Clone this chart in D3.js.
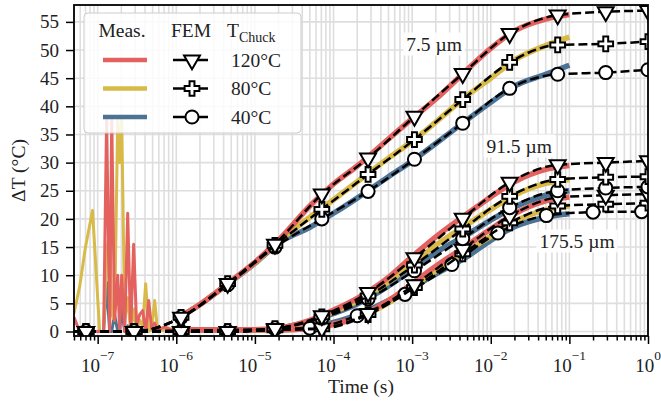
<!DOCTYPE html>
<html>
<head>
<meta charset="utf-8">
<title>Delta T vs time</title>
<style>
  body { margin: 0; background: #fff; }
  svg { display: block; }
  svg text { font-family: "Liberation Serif", "Times New Roman", serif; }
</style>
</head>
<body>
<script src="https://cdn.jsdelivr.net/npm/d3@7/dist/d3.min.js"></script>
<script>
// ---- data ----
// FEM time grid (s)
const femTime = [5e-8, 7.1e-8, 2.9e-7, 1.15e-6, 4.5e-6, 1.8e-5, 7.1e-5, 2.75e-4, 1.07e-3, 4.4e-3, 1.74e-2, 7.1e-2, 0.29, 1.0];
const fem7_120 = [0, 0, 0, 2.5, 8.5, 15.5, 24.4, 30.8, 38.2, 45.8, 52.9, 56.2, 56.8, 57.0];
const fem7_80  = [0, 0, 0, 2.5, 8.5, 15.3, 21.7, 27.9, 34.1, 41.2, 47.8, 50.9, 51.1, 51.5];
const fem7_40  = [0, 0, 0, 2.5, 8.3, 15.0, 20.0, 24.9, 30.6, 37.0, 43.2, 45.7, 46.0, 46.5];
const fem91_120 = [0, 0, 0, 0, 0, 0.5, 2.8, 6.9, 13.1, 20.1, 26.5, 29.6, 30.0, 30.3];
const fem91_80  = [0, 0, 0, 0, 0, 0.5, 2.6, 6.3, 11.8, 18.2, 24.0, 27.0, 27.4, 27.5];
const fem91_40  = [0, 0, 0, 0, 0, 0.5, 2.4, 5.8, 10.8, 16.5, 22.0, 25.0, 25.5, 25.7];
const fem175_120 = [0, 0, 0, 0, 0, 0.3, 0.6, 3.2, 8.3, 14.6, 20.5, 23.8, 24.2, 24.4];
const fem175_80  = [0, 0, 0, 0, 0, 0.3, 0.5, 3.0, 7.8, 13.8, 19.3, 22.3, 22.6, 22.8];
// the 40°C / 175.5 µm run sits on its own time grid
const femTime175_40 = [5e-8, 5e-5, 2e-4, 8.1e-4, 3.2e-3, 1.23e-2, 5.1e-2, 0.2, 0.83];
const fem175_40 = [0, 0.6, 2.8, 6.6, 11.9, 17.5, 20.6, 21.2, 21.3];

// measurements
const measTime = [1e-6, 2e-6, 5e-6, 1e-5, 2e-5, 5e-5, 1e-4, 2e-4, 5e-4, 1e-3, 2e-3, 5e-3, 1e-2, 2e-2, 5e-2, 1e-1];
const meas7_120 = [2.2, 4.8, 9.0, 12.3, 16.2, 22.3, 26.2, 29.4, 34.2, 37.8, 41.3, 46.5, 50.3, 53.4, 55.5, 56.3];
const meas7_80  = [2.2, 4.8, 9.0, 12.2, 16.0, 20.3, 23.4, 26.6, 30.8, 33.8, 37.2, 41.9, 45.0, 48.2, 50.8, 52.3];
const meas7_40  = [2.2, 4.8, 8.9, 12.1, 15.7, 18.5, 21.0, 23.7, 27.5, 30.3, 33.4, 37.6, 40.7, 43.6, 45.7, 47.3];
const meas91_120 = [0.3, 0.3, 0.3, 0.3, 0.6, 2.0, 3.8, 5.9, 9.6, 13.3, 16.8, 20.9, 23.9, 26.6, 28.8, 29.5];
const meas91_80  = [0.3, 0.3, 0.3, 0.3, 0.6, 1.9, 3.5, 5.4, 8.8, 12.1, 15.3, 19.0, 21.7, 24.2, 26.3, 27.0];
const meas91_40  = [0.3, 0.3, 0.3, 0.3, 0.6, 1.8, 3.2, 4.9, 8.1, 11.1, 14.0, 17.2, 19.8, 22.1, 24.2, 25.0];
const meas175_120 = [0.3, 0.3, 0.3, 0.3, 0.3, 0.5, 1.3, 2.5, 5.5, 8.5, 11.6, 15.3, 18.2, 20.9, 23.2, 23.9];
const meas175_80  = [0.3, 0.3, 0.3, 0.3, 0.3, 0.5, 1.2, 2.4, 5.1, 7.9, 10.8, 14.3, 16.9, 19.5, 21.6, 22.3];
const meas175_40  = [0.3, 0.3, 0.3, 0.3, 0.3, 0.6, 1.6, 2.9, 5.5, 7.8, 10.2, 13.3, 16.2, 18.6, 20.3, 20.9];

// early-time noise of the measurement
const noiseTime = [5.0e-8, 5.9e-8, 7.0e-8, 8.6e-8, 1.06e-7, 1.19e-7, 1.30e-7, 1.42e-7, 1.51e-7, 1.64e-7, 1.80e-7, 1.90e-7, 2.02e-7, 2.21e-7,
                   2.41e-7, 2.63e-7, 2.87e-7, 3.13e-7, 3.42e-7, 3.74e-7, 4.08e-7, 4.46e-7, 4.86e-7, 5.31e-7, 5.80e-7, 7.11e-7, 8.73e-7, 1.01e-6];
const noise120 = [2.5, 0, 0, 0, 0, 0, 38, 0, 38, 2, 10, 0, 10, 0, 21, 0, 15.5, 1, 3, 3.7, 0, 5.5, 0.5, 1.5, 0.3, 0.8, 0.3, 0.6];
const noise80  = [3.2, 8, 15, 21.5, 0, 0, 14, 18, 3, 2, 38, 30, 38, 2, 6, 0, 4, 0, 2, 1, 8.5, 0, 0.5, 5.5, 0, 0.3, 0.5, 0.8];
const noise40  = [0, 0, 0, 0, 0, 0, 8.7, 0, 0, 3, 0, 0, 4, 0, 1, 0, 0.3, 0.3, 0.3, 0.3, 0.3, 0.3, 0.3, 0.3, 0.3, 0.3, 0.3, 0.5];

const tempLabels = ["120°C", "80°C", "40°C"];
const thickLabels = ["7.5 µm", "91.5 µm", "175.5 µm"];
const colors = { 120: "#e3625f", 80: "#d8ba48", 40: "#4c7294" };

const FONT = "Liberation Serif, Times New Roman, serif";

// ---- layout ----
const W = 661, H = 412;
const pl = 74, pr = 648, pt = 5, pb = 336;

const svg = d3.select("body").append("svg")
  .attr("width", W).attr("height", H)
  .attr("font-family", FONT);

const x = d3.scaleLog().domain([5e-8, 1]).range([pl, pr]);
const y = d3.scaleLinear().domain([-0.8, 58]).range([pb, pt]);

// grid
let minorX = [];
for (let e = -8; e <= 0; e++) {
  for (let m = 1; m <= 9; m++) {
    let v = m * Math.pow(10, e);
    if (v >= 5e-8 * 0.999 && v <= 1.0001) minorX.push(v);
  }
}
const yTicks = d3.range(0, 56, 5);
const majorX = [1e-7, 1e-6, 1e-5, 1e-4, 1e-3, 1e-2, 1e-1, 1];

svg.append("g").selectAll("line").data(minorX).enter().append("line")
  .attr("x1", d => x(d)).attr("x2", d => x(d))
  .attr("y1", pt).attr("y2", pb)
  .attr("stroke", "#dedede").attr("stroke-width", 1.6);
svg.append("g").selectAll("line").data(yTicks).enter().append("line")
  .attr("x1", pl).attr("x2", pr)
  .attr("y1", d => y(d)).attr("y2", d => y(d))
  .attr("stroke", "#dedede").attr("stroke-width", 1.6);

svg.append("clipPath").attr("id", "plot-clip")
  .append("rect").attr("x", pl).attr("y", pt).attr("width", pr - pl).attr("height", pb - pt);

const plot = svg.append("g").attr("clip-path", "url(#plot-clip)");

// measured curves
const zip = (ts, vs) => ts.map((t, i) => [t, vs[i]]);
const lineLin = d3.line().x(d => x(d[0])).y(d => y(d[1]));
const lineSmooth = d3.line().x(d => x(d[0])).y(d => y(d[1])).curve(d3.curveMonotoneX);

const noise = [[40, noise40], [80, noise80], [120, noise120]];
noise.forEach(([temp, vals]) => {
  plot.append("path")
    .attr("d", lineLin(zip(noiseTime, vals)))
    .attr("fill", "none").attr("stroke", colors[temp])
    .attr("stroke-width", 3).attr("stroke-linejoin", "round");
});

const meas = [
  [40, meas175_40], [80, meas175_80], [120, meas175_120],
  [40, meas91_40], [80, meas91_80], [120, meas91_120],
  [40, meas7_40], [80, meas7_80], [120, meas7_120]
];
meas.forEach(([temp, vals]) => {
  plot.append("path")
    .attr("d", lineSmooth(zip(measTime, vals)))
    .attr("fill", "none").attr("stroke", colors[temp])
    .attr("stroke-width", 5.5).attr("stroke-linecap", "butt");
});

// FEM curves
const markerOf = {
  120: d3.symbol(d3.symbolTriangle, 110),
  80: d3.symbol(d3.symbolCross, 120),
  40: d3.symbol(d3.symbolCircle, 135)
};
const rotOf = { 120: 180, 80: 0, 40: 0 };

function drawFem(g, ts, vals, temp) {
  const pts = zip(ts, vals);
  g.append("path")
    .attr("d", lineSmooth(pts))
    .attr("fill", "none").attr("stroke", "#000")
    .attr("stroke-width", 2.5).attr("stroke-dasharray", "9,4");
  g.selectAll(null).data(pts.slice(1)).enter().append("path")
    .attr("d", markerOf[temp]())
    .attr("transform", d => `translate(${x(d[0])},${y(d[1])}) rotate(${rotOf[temp]})`)
    .attr("fill", "#fff").attr("stroke", "#000").attr("stroke-width", 2);
}

const fem = [
  [femTime175_40, fem175_40, 40], [femTime, fem175_80, 80], [femTime, fem175_120, 120],
  [femTime, fem91_40, 40], [femTime, fem91_80, 80], [femTime, fem91_120, 120],
  [femTime, fem7_40, 40], [femTime, fem7_80, 80], [femTime, fem7_120, 120]
];
fem.forEach(([ts, vals, temp]) => drawFem(plot.append("g"), ts, vals, temp));

// thickness labels with white boxes
const labelPos = [[1.9e-3, 44], [2.3e-2, 146], [1.25e-1, 241]];
thickLabels.forEach((txt, i) => {
  const g = svg.append("g");
  const rect = g.append("rect").attr("fill", "#fff").attr("opacity", 0.9);
  const t = g.append("text")
    .attr("x", x(labelPos[i][0])).attr("y", labelPos[i][1] + 6.5)
    .attr("text-anchor", "middle").attr("font-size", 19.5).attr("fill", "#222")
    .attr("font-family", FONT)
    .text(txt);
  const b = t.node().getBBox();
  rect.attr("x", b.x - 3).attr("y", b.y - 1).attr("width", b.width + 6).attr("height", b.height + 2);
});

// frame
svg.append("rect").attr("x", pl).attr("y", pt)
  .attr("width", pr - pl).attr("height", pb - pt)
  .attr("fill", "none").attr("stroke", "#000").attr("stroke-width", 1.8);

// axes
const xAxis = svg.append("g").attr("transform", `translate(0,${pb})`);
xAxis.append("g").call(d3.axisBottom(x).tickValues(minorX.filter(d => !majorX.includes(d))).tickSize(4.5).tickFormat(""));
xAxis.append("g").call(d3.axisBottom(x).tickValues(majorX).tickSize(8).tickFormat(""));
xAxis.selectAll(".domain").remove();
xAxis.selectAll(".tick line").attr("stroke", "#000").attr("stroke-width", 1.5);

majorX.forEach(v => {
  const e = Math.round(Math.log10(v));
  const t = svg.append("text")
    .attr("x", x(v)).attr("y", 372)
    .attr("text-anchor", "middle").attr("font-size", 19).attr("fill", "#222")
    .attr("font-family", FONT);
  t.append("tspan").text("10");
  t.append("tspan").attr("dy", -12).attr("font-size", 13.5)
    .text(e < 0 ? "\u2212" + (-e) : String(e));
});

const yAxis = svg.append("g").attr("transform", `translate(${pl},0)`)
  .call(d3.axisLeft(y).tickValues(yTicks).tickSize(8).tickPadding(7));
yAxis.attr("font-family", FONT).attr("font-size", 19);
yAxis.select(".domain").remove();
yAxis.selectAll(".tick line").attr("stroke", "#000").attr("stroke-width", 1.5);
yAxis.selectAll(".tick text").attr("fill", "#222");

svg.append("text")
  .attr("x", (pl + pr) / 2).attr("y", 393)
  .attr("text-anchor", "middle").attr("font-size", 19.5).attr("fill", "#222")
  .attr("font-family", FONT)
  .text("Time (s)");
svg.append("text")
  .attr("transform", `translate(25,${(pt + pb) / 2}) rotate(-90)`)
  .attr("text-anchor", "middle").attr("font-size", 19.5).attr("fill", "#222")
  .attr("font-family", FONT)
  .text("ΔT (°C)");

// legend
const lg = svg.append("g").attr("font-family", FONT);
lg.append("rect").attr("x", 84).attr("y", 13).attr("width", 217).attr("height", 120).attr("rx", 4)
  .attr("fill", "#fff").attr("fill-opacity", 0.85).attr("stroke", "#cccccc").attr("stroke-width", 1);
lg.append("text").attr("x", 122).attr("y", 37).attr("text-anchor", "middle")
  .attr("font-size", 19.5).attr("fill", "#222").text("Meas.");
lg.append("text").attr("x", 191).attr("y", 37).attr("text-anchor", "middle")
  .attr("font-size", 19.5).attr("fill", "#222").text("FEM");
const th = lg.append("text").attr("x", 227).attr("y", 37).attr("font-size", 19.5).attr("fill", "#222");
th.append("tspan").text("T");
th.append("tspan").attr("dy", 5).attr("font-size", 14).text("Chuck");

[120, 80, 40].forEach((temp, i) => {
  const cy = 60 + i * 28.5;
  lg.append("line").attr("x1", 103).attr("x2", 147).attr("y1", cy).attr("y2", cy)
    .attr("stroke", colors[temp]).attr("stroke-width", 4.5);
  lg.append("line").attr("x1", 173).attr("x2", 208).attr("y1", cy).attr("y2", cy)
    .attr("stroke", "#000").attr("stroke-width", 2.5);
  lg.append("path").attr("d", markerOf[temp]())
    .attr("transform", `translate(192,${cy}) rotate(${rotOf[temp]})`)
    .attr("fill", "#fff").attr("stroke", "#000").attr("stroke-width", 2);
  lg.append("text").attr("x", 231).attr("y", cy + 6.5)
    .attr("font-size", 19.5).attr("fill", "#222").text(tempLabels[i]);
});
</script>
</body>
</html>
